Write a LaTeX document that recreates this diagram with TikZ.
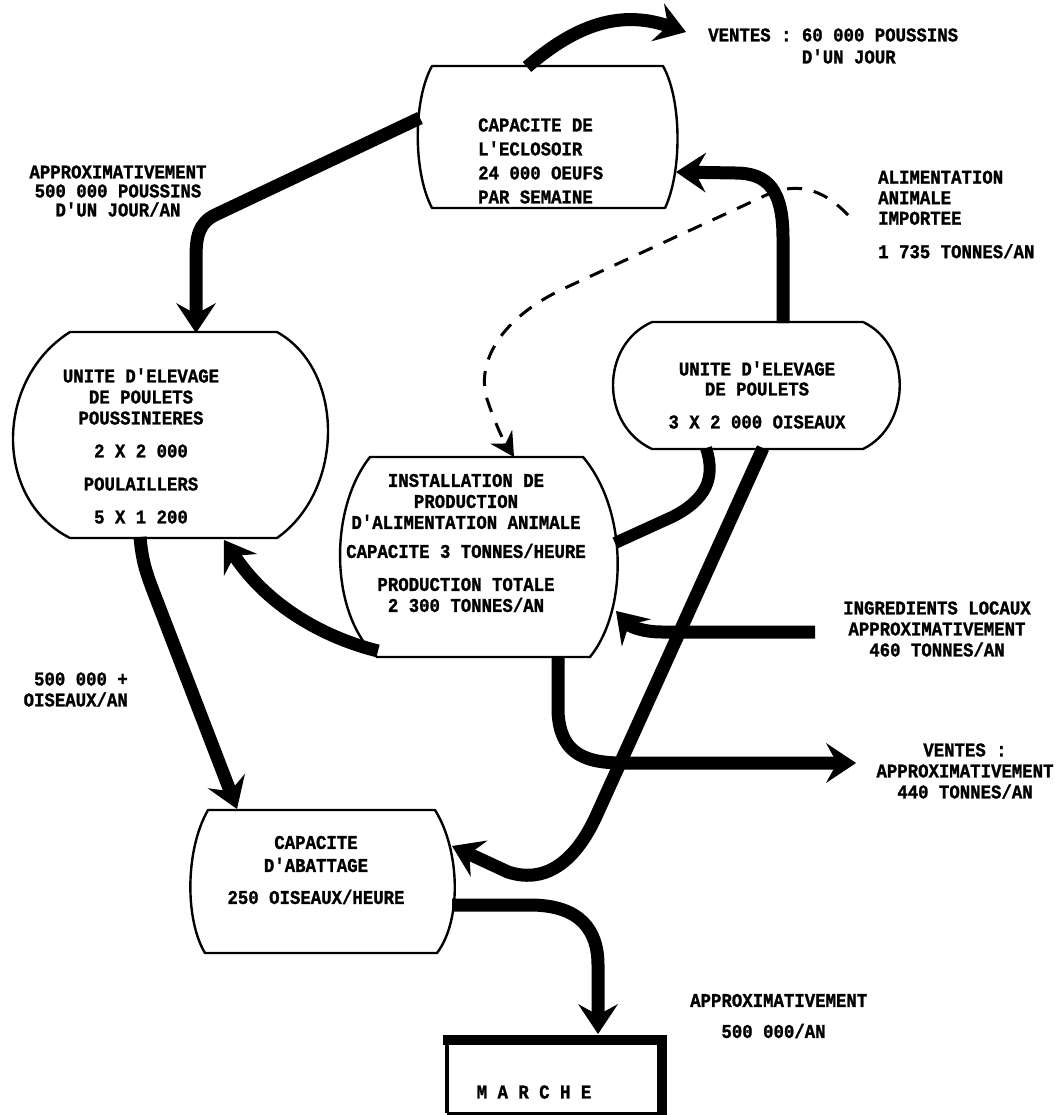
\documentclass[tikz,border=0pt]{standalone}
\usepackage{fontspec}
\newfontfamily\tw{Liberation Mono}[FakeStretch=0.89,FakeBold=1.2]
\usetikzlibrary{arrows.meta}
\begin{document}
\begin{tikzpicture}[x=1pt,y=-1pt,
  box/.style={line width=2.4pt, line join=round},
  flow/.style={line width=13pt, -{Stealth[length=30pt,width=40pt,inset=11pt,line width=0pt]}},
  link/.style={line width=12pt},
  feedline/.style={line width=3pt, dash pattern=on 15pt off 12pt,
    -{Stealth[length=24pt,width=26pt,inset=8pt,line width=0pt]}},
  lbl/.style={font=\tw\bfseries\fontsize{19.5}{21}\selectfont, inner sep=0pt, align=center},
]
\useasboundingbox (0,0) rectangle (1060,1115);

% ---- units (barrel-shaped outlines) ----
% hatchery
\draw[box] (432,66) -- (663,66) .. controls (682,100) and (682,172) .. (665,208)
  -- (432,208) .. controls (413,172) and (413,100) .. cycle;
% brooder / layer unit
\draw[box] (70,332) -- (277,332) .. controls (345,370) and (345,490) .. (277,538)
  -- (70,538) .. controls (-6,500) and (-6,380) .. cycle;
% broiler unit
\draw[box] (652,322) -- (863,322) .. controls (912,345) and (912,425) .. (863,449)
  -- (652,449) .. controls (600,425) and (600,345) .. cycle;
% feed mill
\draw[box] (370,457) -- (583,457) .. controls (628,510) and (628,610) .. (590,657)
  -- (377,657) .. controls (330,615) and (328,510) .. cycle;
% slaughterhouse
\draw[box] (208,810) -- (435,810) .. controls (460,850) and (462,920) .. (437,953)
  -- (205,953) .. controls (185,920) and (185,850) .. cycle;
% market
\draw[line width=4pt] (447,1040) -- (447,1113);
\draw[line width=3pt] (447,1113) -- (662,1113);
\draw[line width=10pt] (443,1040) -- (662,1040) -- (662,1116);

% ---- texts inside the units ----
\node[lbl, anchor=west, align=left, font=\tw\bfseries\fontsize{19.5}{24}\selectfont] (hatch) at (478,161)
  {CAPACITE DE\\L'ECLOSOIR\\24 000 OEUFS\\PAR SEMAINE};
\node[lbl] (brood) at (141,446)
  {UNITE D'ELEVAGE\\DE POULETS\\POUSSINIERES\\[12pt]2 X 2 000\\[12pt]POULAILLERS\\[12pt]5 X 1 200};
\node[lbl, font=\tw\bfseries\fontsize{19.5}{20}\selectfont] (broil) at (757,395)
  {UNITE D'ELEVAGE\\DE POULETS\\[13pt]3 X 2 000 OISEAUX};
\node[lbl] (mill) at (466,543)
  {INSTALLATION DE\\PRODUCTION\\D'ALIMENTATION ANIMALE\\[8pt]CAPACITE 3 TONNES/HEURE\\[12pt]PRODUCTION TOTALE\\2 300 TONNES/AN};
\node[lbl, font=\tw\bfseries\fontsize{19.5}{23}\selectfont] (slaught) at (316,870)
  {CAPACITE\\D'ABATTAGE\\[9pt]250 OISEAUX/HEURE};
\node[lbl] (market) at (534,1092) {M A R C H E};

% ---- flow labels ----
\node[lbl, anchor=west, align=left, font=\tw\bfseries\fontsize{19.5}{22}\selectfont] (salechicks) at (708,46)
  {VENTES : 60 000 POUSSINS\\\hphantom{VENTES :~}D'UN JOUR};
\node[lbl, font=\tw\bfseries\fontsize{19.5}{19}\selectfont] (chicks) at (118,191)
  {APPROXIMATIVEMENT\\500 000 POUSSINS\\D'UN JOUR/AN};
\node[lbl, anchor=west, align=left, font=\tw\bfseries\fontsize{19.5}{20.5}\selectfont] (imported) at (878,214.5)
  {ALIMENTATION\\ANIMALE\\IMPORTEE\\[13pt]1 735 TONNES/AN};
\node[lbl] (local) at (937,629)
  {INGREDIENTS LOCAUX\\APPROXIMATIVEMENT\\460 TONNES/AN};
\node[lbl] (salefeed) at (965,771)
  {VENTES :\\APPROXIMATIVEMENT\\440 TONNES/AN};
\node[lbl, anchor=east, align=right] (birds) at (128,689.5)
  {500 000 +\\OISEAUX/AN};
\node[lbl, anchor=west, align=left] (tomarket) at (690,1016)
  {APPROXIMATIVEMENT\\[10pt]\hphantom{APP}500 000/AN};

% ---- connection points ----
\coordinate (E-top) at (527,67);
\coordinate (out-chicks) at (686,32);
\coordinate (E-left) at (420,118);
\coordinate (L-top) at (196,333);
\coordinate (U-top) at (783,323);
\coordinate (E-right) at (676,172);
\coordinate (imp-start) at (848,215);
\coordinate (I-top) at (514,457);
\coordinate (U-bot-a) at (706,448);
\coordinate (I-right-a) at (615,543);
\coordinate (U-bot-b) at (763,448);
\coordinate (A-right) at (452,846);
\coordinate (L-bot) at (140,537);
\coordinate (A-top) at (237,809);
\coordinate (I-botleft) at (378,651);
\coordinate (L-botright) at (224,540);
\coordinate (I-bot) at (558,656);
\coordinate (out-feed) at (856,763);
\coordinate (local-in) at (815,632);
\coordinate (I-right-b) at (616,611);
\coordinate (A-out) at (452,905);
\coordinate (M-top) at (598,1034);

% ---- flows ----
\draw[flow] (E-top) .. controls (570,30) and (615,8) .. (out-chicks);
\draw[flow] (E-left) -- (215,215) .. controls (199,223) and (196,236) .. (196,258) -- (L-top);
\draw[flow] (U-top) -- (783,238) .. controls (783,190) and (768,173) .. (735,173) -- (E-right);
\draw[feedline] (imp-start) .. controls (822,188) and (795,180) .. (760,198) -- (565,288)
  .. controls (492,322) and (476,370) .. (488,402) .. controls (494,420) and (502,438) .. (I-top);
\draw[link] (U-bot-a) .. controls (716,478) and (706,500) .. (672,517) -- (I-right-a);
\draw[flow] (U-bot-b) -- (598,812) .. controls (578,858) and (548,885) .. (508,872) -- (A-right);
\draw[flow] (L-bot) .. controls (142,560) and (146,572) .. (152,588) -- (A-top);
\draw[flow] (I-botleft) .. controls (318,636) and (265,602) .. (L-botright);
\draw[flow] (I-bot) -- (558,712) .. controls (560,750) and (580,763) .. (622,763) -- (out-feed);
\draw[flow] (local-in) -- (662,632) .. controls (642,632) and (630,626) .. (I-right-b);
\draw[flow] (A-out) -- (530,905) .. controls (580,905) and (598,930) .. (598,965) -- (M-top);
\end{tikzpicture}
\end{document}
